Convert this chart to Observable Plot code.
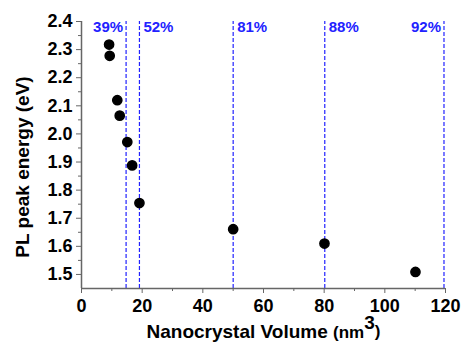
<!DOCTYPE html>
<html>
<head>
<meta charset="utf-8">
<script src="https://cdn.jsdelivr.net/npm/d3@7"></script>
<script src="https://cdn.jsdelivr.net/npm/@observablehq/plot@0.6"></script>
<style>
  html, body { margin: 0; padding: 0; background: #fff; }
</style>
</head>
<body>
<div id="chart"></div>
<script>
// Data
const volume = [9.1, 9.3, 11.8, 12.6, 15.1, 16.7, 19.1, 50.0, 80.1, 110.1];
const energy = [2.318, 2.278, 2.120, 2.065, 1.971, 1.888, 1.754, 1.661, 1.610, 1.509];
const lineVolume = [14.7, 19.1, 50.0, 80.2, 119.5];
const lineLabels = ["39%", "52%", "81%", "88%", "92%"];
const xTicks = [0, 20, 40, 60, 80, 100, 120];
const xMinor = [10, 30, 50, 70, 90, 110];
const yTicks = [1.5, 1.6, 1.7, 1.8, 1.9, 2.0, 2.1, 2.2, 2.3, 2.4];
const yMinor = [1.55, 1.65, 1.75, 1.85, 1.95, 2.05, 2.15, 2.25, 2.35];
const xLabel = "Nanocrystal Volume (nm3)";
const yLabel = "PL peak energy (eV)";

const points = volume.map((v, i) => ({v, e: energy[i]}));
const lines = lineVolume.map((v, i) => ({v, t: lineLabels[i], left: i === 0 || i === lineVolume.length - 1}));

const axisColor = "#666";
const blue = "#2222ff";
const font = "'Liberation Sans', Arial, Helvetica, sans-serif";

const plot = Plot.plot({
  width: 463,
  height: 345,
  marginLeft: 81,
  marginRight: 18,
  marginTop: 21,
  marginBottom: 57,
  style: {fontFamily: font, background: "#fff", color: "#000"},
  x: {domain: [0, 120], axis: null},
  y: {domain: [1.45, 2.4], axis: null},
  marks: [
    Plot.ruleX(lines, {x: "v", y1: 1.45, y2: 2.4, stroke: blue, strokeWidth: 1.2, strokeDasharray: "4,2"}),
    Plot.text(lines.filter(d => d.left), {x: "v", y: 2.4, text: "t", textAnchor: "end", lineAnchor: "top", dx: -3, dy: 0, fill: blue, fontSize: 15, fontWeight: "bold"}),
    Plot.text(lines.filter(d => !d.left), {x: "v", y: 2.4, text: "t", textAnchor: "start", lineAnchor: "top", dx: 4, dy: 0, fill: blue, fontSize: 15, fontWeight: "bold"}),
    Plot.ruleX([0], {y1: 1.45, y2: 2.4, stroke: axisColor, strokeWidth: 1.5}),
    Plot.ruleY([1.45], {x1: 0, x2: 120, stroke: axisColor, strokeWidth: 1.5}),
    Plot.axisX(xTicks, {tickSize: 5, tickPadding: 6, stroke: axisColor, fill: "#000", fontSize: 18, fontWeight: "bold", label: null}),
    Plot.axisX(xMinor, {tickSize: 3, text: null, stroke: axisColor, label: null}),
    Plot.axisY(yTicks, {tickSize: 5, tickPadding: 4, stroke: axisColor, fill: "#000", fontSize: 18, fontWeight: "bold", tickFormat: d3.format(".1f"), label: null}),
    Plot.axisY(yMinor, {tickSize: 3, text: null, stroke: axisColor, label: null}),
    Plot.dot(points, {x: "v", y: "e", r: 4.6, fill: "#000", stroke: "#000"}),
    Plot.text([xLabel], {frameAnchor: "bottom", text: d => d, dy: 43, lineAnchor: "middle", textAnchor: "middle", fontSize: 19, fontWeight: "bold", fill: "#000"}),
    Plot.text([yLabel], {frameAnchor: "left", text: d => d, rotate: -90, dx: -59, dy: 12, lineAnchor: "middle", textAnchor: "middle", fontSize: 19, fontWeight: "bold", fill: "#000"})
  ]
});

// Render the "3" of nm3 as a raised full-size superscript
d3.select(plot).selectAll("text").each(function() {
  if (this.textContent === xLabel) {
    const el = d3.select(this);
    el.text(null);
    el.append("tspan").text("Nanocrystal Volume ");
    el.append("tspan").attr("font-size", 17).text("(nm");
    el.append("tspan").attr("dy", "-0.45em").text("3");
    el.append("tspan").attr("dy", "0.45em").attr("font-size", 17).text(")");
  }
});

document.getElementById("chart").appendChild(plot);
</script>
</body>
</html>
